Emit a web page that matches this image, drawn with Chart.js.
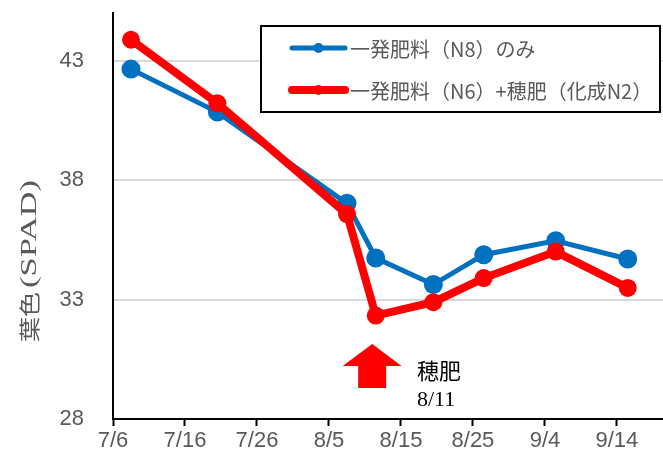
<!DOCTYPE html>
<html>
<head>
<meta charset="utf-8">
<script src="https://cdn.jsdelivr.net/npm/chart.js@4"></script>
<style>
  html, body { margin: 0; padding: 0; background: #fff; }
  #wrap { width: 663px; height: 459px; }
</style>
</head>
<body>
<div id="wrap"><canvas id="chart" width="663" height="459"></canvas></div>
<script>
  "use strict";

  // measurement dates and SPAD readings
  const dates = ["7/8", "7/20", "8/7", "8/11", "8/19", "8/26", "9/5", "9/15"];
  const spadN8 = [42.65, 40.85, 37.03, 34.74, 33.63, 34.88, 35.46, 34.70];
  const spadN6Top = [43.88, 41.22, 36.58, 32.33, 32.89, 33.90, 35.01, 33.49];

  const seriesLabels = ["一発肥料（N8）のみ", "一発肥料（N6）+穂肥（化成N2）"];
  const seriesColors = ["#0070C0", "#FF0000"];

  const xTickLabels = ["7/6", "7/16", "7/26", "8/5", "8/15", "8/25", "9/4", "9/14"];
  const yTicks = [28, 33, 38, 43];
  const axisEndDate = "9/20";

  const topDressDate = "8/11";
  const yTitleJa = "葉色";
  const yTitleEn = "(SPAD)";

  // days after 7/6
  function dayOf(md) {
    const p = md.split("/");
    const t = new Date(2000, parseInt(p[0]) - 1, parseInt(p[1]));
    return Math.round((t - new Date(2000, 6, 6)) / 86400000);
  }

  function points(values) {
    return dates.map(function (d, i) {
      return { x: dayOf(d) + 0.5, y: values[i] };
    });
  }

  const overlay = {
    id: "overlay",
    afterDraw: function (chart) {
      const ctx = chart.ctx;
      const xs = chart.scales.x;

      // y axis title, stretched along its length like the original
      ctx.save();
      ctx.translate(29, 342);
      ctx.rotate(-Math.PI / 2);
      ctx.fillStyle = "#595959";
      ctx.textBaseline = "middle";
      ctx.textAlign = "left";
      ctx.font = "21px 'Noto Sans CJK JP'";
      let w = ctx.measureText(yTitleJa).width;
      ctx.save();
      ctx.scale(50 / w, 1);
      ctx.fillText(yTitleJa, 0, 0);
      ctx.restore();
      ctx.font = "23px 'Liberation Serif'";
      w = ctx.measureText(yTitleEn).width;
      ctx.save();
      ctx.translate(54, 1);
      ctx.scale(108 / w, 1);
      ctx.fillText(yTitleEn, 0, 0);
      ctx.restore();
      ctx.restore();

      // legend box
      ctx.save();
      ctx.fillStyle = "#fff";
      ctx.fillRect(261, 26, 399, 86);
      ctx.strokeStyle = "#000";
      ctx.lineWidth = 2;
      ctx.strokeRect(261, 26, 399, 86);
      const rowsY = [48, 90];
      chart.data.datasets.forEach(function (ds, i) {
        const y = rowsY[i];
        ctx.strokeStyle = ds.borderColor;
        ctx.lineWidth = ds.borderWidth;
        ctx.lineCap = "round";
        ctx.beginPath();
        ctx.moveTo(292, y);
        ctx.lineTo(345, y);
        ctx.stroke();
        ctx.fillStyle = ds.borderColor;
        ctx.beginPath();
        ctx.arc(318.5, y, 5, 0, Math.PI * 2);
        ctx.fill();
        ctx.fillStyle = "#595959";
        ctx.font = "20px 'Noto Sans CJK JP'";
        ctx.textBaseline = "middle";
        ctx.textAlign = "left";
        ctx.fillText(ds.label, 350, y + 1);
      });
      ctx.restore();

      // top-dressing arrow and note
      const ax = xs.getPixelForValue(dayOf(topDressDate));
      ctx.save();
      ctx.fillStyle = "#FF0000";
      ctx.beginPath();
      ctx.moveTo(ax, 344);
      ctx.lineTo(ax + 29.5, 366);
      ctx.lineTo(ax + 14, 366);
      ctx.lineTo(ax + 14, 388);
      ctx.lineTo(ax - 14, 388);
      ctx.lineTo(ax - 14, 366);
      ctx.lineTo(ax - 29.5, 366);
      ctx.closePath();
      ctx.fill();
      ctx.fillStyle = "#000";
      ctx.textAlign = "left";
      ctx.textBaseline = "middle";
      ctx.font = "22px 'Noto Sans CJK JP'";
      ctx.fillText("穂肥", 417, 371);
      ctx.textBaseline = "alphabetic";
      ctx.font = "22px 'Liberation Serif'";
      ctx.fillText(topDressDate, 417, 406);
      ctx.restore();
    },
  };

  new Chart(document.getElementById("chart").getContext("2d"), {
    type: "line",
    data: {
      datasets: [
        {
          label: seriesLabels[0],
          data: points(spadN8),
          borderColor: seriesColors[0],
          backgroundColor: seriesColors[0],
          pointBackgroundColor: seriesColors[0],
          pointBorderWidth: 0,
          pointRadius: 9.5,
          borderWidth: 5,
          tension: 0,
          order: 1,
        },
        {
          label: seriesLabels[1],
          data: points(spadN6Top),
          borderColor: seriesColors[1],
          backgroundColor: seriesColors[1],
          pointBackgroundColor: seriesColors[1],
          pointBorderWidth: 0,
          pointRadius: 9,
          borderWidth: 8,
          tension: 0,
          order: 0,
        },
      ],
    },
    options: {
      responsive: false,
      animation: false,
      devicePixelRatio: 1,
      events: [],
      layout: { autoPadding: false, padding: { top: 13, right: 0, bottom: 0, left: 0 } },
      plugins: {
        legend: { display: false },
        tooltip: { enabled: false },
      },
      scales: {
        x: {
          type: "linear",
          min: 0,
          max: dayOf(axisEndDate) + 0.4,
          afterBuildTicks: function (axis) {
            axis.ticks = xTickLabels.map(function (l) {
              return { value: dayOf(l) };
            });
          },
          afterFit: function (axis) {
            axis.height = 40;
            axis.paddingLeft = 0;
            axis.paddingRight = 0;
          },
          ticks: {
            autoSkip: false,
            maxRotation: 0,
            padding: 2,
            color: "#595959",
            font: { family: "'Liberation Sans', Arial", size: 22 },
            callback: function (v) {
              const i = xTickLabels.findIndex(function (l) {
                return dayOf(l) === v;
              });
              return i >= 0 ? xTickLabels[i] : "";
            },
          },
          grid: {
            drawOnChartArea: false,
            drawTicks: true,
            tickLength: 7,
            tickWidth: 2,
            tickColor: "#000",
          },
          border: { display: true, color: "#000", width: 2 },
        },
        y: {
          type: "linear",
          min: 28,
          max: 45,
          afterBuildTicks: function (axis) {
            axis.ticks = yTicks.map(function (v) {
              return { value: v };
            });
          },
          afterFit: function (axis) {
            axis.width = 113;
            axis.paddingTop = 0;
            axis.paddingBottom = 0;
          },
          ticks: {
            padding: 29,
            color: "#595959",
            font: { family: "'Liberation Sans', Arial", size: 22 },
          },
          grid: {
            drawTicks: false,
            lineWidth: 2,
            color: function (c) {
              return c.tick && c.tick.value === 28 ? "rgba(0,0,0,0)" : "#D9D9D9";
            },
          },
          border: { display: true, color: "#000", width: 2 },
        },
      },
    },
    plugins: [overlay],
  });
</script>
</body>
</html>
